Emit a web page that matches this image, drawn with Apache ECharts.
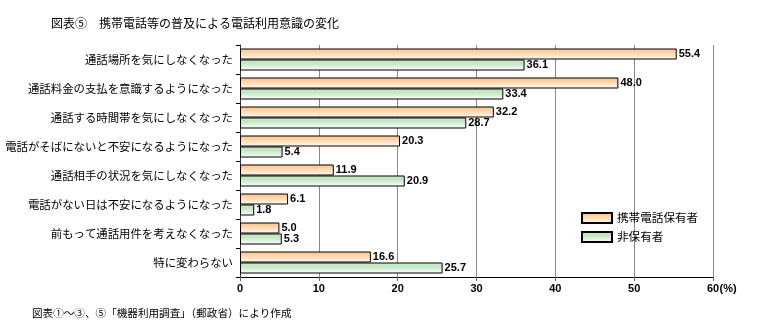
<!DOCTYPE html>
<html>
<head>
<meta charset="utf-8">
<script src="https://cdn.jsdelivr.net/npm/echarts@6/dist/echarts.min.js"></script>
<style>
  html, body { margin: 0; padding: 0; background: #fff; }
  #chart { width: 763px; height: 335px; }
</style>
</head>
<body>
<div id="chart"></div>
<script>
// 携帯電話の保有状況別に見た電話利用意識の変化（％）
const categories = [
  '通話場所を気にしなくなった',
  '通話料金の支払を意識するようになった',
  '通話する時間帯を気にしなくなった',
  '電話がそばにないと不安になるようになった',
  '通話相手の状況を気にしなくなった',
  '電話がない日は不安になるようになった',
  '前もって通話用件を考えなくなった',
  '特に変わらない'
];
const ownerValues = [55.4, 48.0, 32.2, 20.3, 11.9, 6.1, 5.0, 16.6];
const nonOwnerValues = [36.1, 33.4, 28.7, 5.4, 20.9, 1.8, 5.3, 25.7];
const seriesNames = ['携帯電話保有者', '非保有者'];
const xTicks = [0, 10, 20, 30, 40, 50, 60];
const unitText = '(%)';

const JP = '"Noto Sans CJK JP", sans-serif';
const NUM = '"Liberation Sans", Arial, "Noto Sans CJK JP", sans-serif';

const chart = echarts.init(document.getElementById('chart'), null, { renderer: 'canvas' });

function grad(stops) {
  return new echarts.graphic.LinearGradient(0, 0, 0, 1,
    stops.map(([o, c]) => ({ offset: o, color: c })));
}

const barLabel = {
  show: true,
  position: 'right',
  distance: 2,
  color: '#000',
  fontFamily: NUM,
  fontWeight: 'bold',
  fontSize: 11,
  formatter: p => p.value.toFixed(1)
};

const tickFont = { fontFamily: NUM, fontWeight: 'bold', fontSize: 11, color: '#000' };
const lastTick = xTicks[xTicks.length - 1];

chart.setOption({
  animation: false,
  backgroundColor: '#fff',
  title: [{
    text: '図表⑤　携帯電話等の普及による電話利用意識の変化',
    left: 46, top: 12,
    textStyle: { fontFamily: JP, fontSize: 12, fontWeight: 'normal', color: '#000' }
  }, {
    text: '図表①～③、⑤「機器利用調査」（郵政省）により作成',
    left: 27, top: 303,
    textStyle: { fontFamily: JP, fontSize: 10.6, fontWeight: 'normal', color: '#000' }
  }],
  legend: {
    orient: 'vertical',
    left: 576, top: 207,
    itemWidth: 30, itemHeight: 10, itemGap: 7,
    icon: 'rect',
    data: seriesNames,
    textStyle: { fontFamily: JP, fontSize: 11.6, color: '#000' }
  },
  grid: {
    left: 240, right: 50, top: 45, bottom: 58,
    containLabel: false, outerBoundsMode: 'none'
  },
  xAxis: {
    type: 'value',
    min: xTicks[0], max: lastTick, interval: 10,
    axisLine: { show: true, lineStyle: { color: '#000', width: 1 } },
    axisTick: { show: true, length: 4, lineStyle: { color: '#666' } },
    axisLabel: {
      margin: 6,
      ...tickFont,
      // the unit sits right after the last tick value; an equal-width spacer keeps the number centred
      formatter: v => v === lastTick ? `{pad|}{num|${v}}{unit|${unitText}}` : String(v),
      rich: {
        num: tickFont,
        unit: { ...tickFont, width: 18, align: 'left' },
        pad: { width: 18 }
      }
    },
    splitLine: { show: true, lineStyle: { color: '#888', width: 1 } }
  },
  yAxis: {
    type: 'category',
    data: categories,
    inverse: true,
    axisLine: { show: true, lineStyle: { color: '#333', width: 1 } },
    axisTick: { show: true, length: 4, lineStyle: { color: '#000' } },
    axisLabel: { margin: 7, color: '#000', fontFamily: JP, fontSize: 11.4 },
    splitLine: { show: false }
  },
  series: [{
    name: seriesNames[0],
    type: 'bar',
    data: ownerValues,
    barWidth: 11,
    barGap: '0%',
    itemStyle: {
      color: grad([[0, '#ffc080'], [0.5, '#ffdcb8'], [1, '#fffaf4']]),
      borderColor: '#000', borderWidth: 1
    },
    label: barLabel
  }, {
    name: seriesNames[1],
    type: 'bar',
    data: nonOwnerValues,
    barWidth: 11,
    barGap: '0%',
    itemStyle: {
      color: grad([[0, '#d8efd8'], [0.3, '#bfe4bf'], [1, '#ffffff']]),
      borderColor: '#000', borderWidth: 1
    },
    label: barLabel
  }]
});
</script>
</body>
</html>
